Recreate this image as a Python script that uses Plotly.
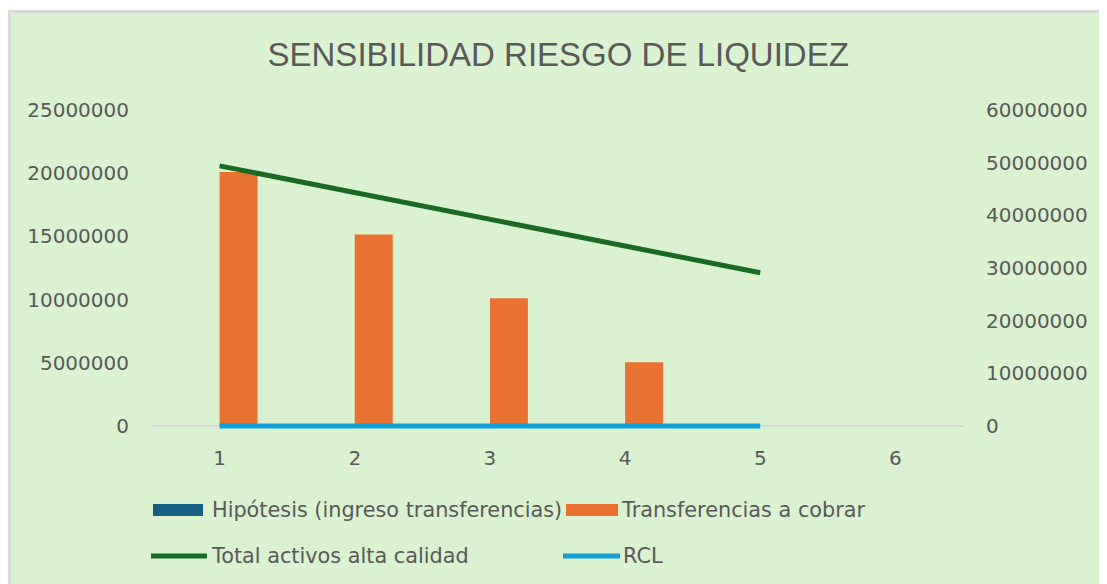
import plotly.graph_objects as go

# ---------------- data ----------------
categories = [1, 2, 3, 4, 5]
axis_categories = [1, 2, 3, 4, 5, 6]
hipotesis = [0, 0, 0, 0, 0]
transferencias = [20100000, 15150000, 10100000, 5050000, 0]
total_activos = [49400000, 44300000, 39250000, 34200000, 29100000]
rcl = [0, 0, 0, 0, 0]
left_ticks = [0, 5000000, 10000000, 15000000, 20000000, 25000000]
right_ticks = [0, 10000000, 20000000, 30000000, 40000000, 50000000, 60000000]
series_names = ["Hipótesis (ingreso transferencias)", "Transferencias a cobrar",
                "Total activos alta calidad", "RCL"]
title_text = "SENSIBILIDAD RIESGO DE LIQUIDEZ"

# ---------------- style ----------------
C_BLUE = "#156082"
C_ORANGE = "#E97132"
C_GREEN = "#196B24"
C_CYAN = "#0F9ED5"
C_BG = "#DAF2D0"
C_TEXT = "#595959"
C_BORDER = "#D9D9D9"
TICK_FONT = dict(family="DejaVu Sans", size=20, color=C_TEXT)

W, H = 1099, 576
ML, MR, MT, MB = 144, 144, 102, 154
PW, PH = W - ML - MR, H - MT - MB
PAD_PX = 4  # extra room below zero so the zero line is not clipped


def px_x(fx):
    return (fx - ML) / PW


def px_y(fy):
    return (H - MB - fy) / PH


left_max = left_ticks[-1]
right_max = right_ticks[-1]
left_min = -PAD_PX * left_max / (PH - PAD_PX)
right_min = -PAD_PX * right_max / (PH - PAD_PX)

fig = go.Figure()
fig.add_trace(go.Bar(x=categories, y=hipotesis, name=series_names[0],
                     marker=dict(color=C_BLUE, line=dict(width=0)),
                     offsetgroup="a", showlegend=False))
fig.add_trace(go.Bar(x=categories, y=transferencias, name=series_names[1],
                     marker=dict(color=C_ORANGE, line=dict(width=0)),
                     offsetgroup="b", showlegend=False))
fig.add_trace(go.Scatter(x=categories, y=total_activos, name=series_names[2],
                         mode="lines", line=dict(color=C_GREEN, width=5),
                         yaxis="y2", showlegend=False))
fig.add_trace(go.Scatter(x=categories, y=rcl, name=series_names[3],
                         mode="lines", line=dict(color=C_CYAN, width=5),
                         yaxis="y2", showlegend=False))

shapes = [
    dict(type="rect", xref="paper", yref="paper", layer="below",
         x0=px_x(1.5), x1=px_x(W + 2), y0=px_y(H + 5), y1=px_y(3.5),
         fillcolor=C_BG, line=dict(color=C_BORDER, width=3)),
]
annotations = []

# manual legend (wide symbols like the original)
row1, row2 = 502, 548
shapes.append(dict(type="rect", xref="paper", yref="paper",
                   x0=px_x(145), x1=px_x(195), y0=px_y(row1 + 6), y1=px_y(row1 - 6),
                   fillcolor=C_BLUE, line=dict(width=0)))
shapes.append(dict(type="rect", xref="paper", yref="paper",
                   x0=px_x(558), x1=px_x(610), y0=px_y(row1 + 6), y1=px_y(row1 - 6),
                   fillcolor=C_ORANGE, line=dict(width=0)))
shapes.append(dict(type="line", xref="paper", yref="paper",
                   x0=px_x(143), x1=px_x(199), y0=px_y(row2), y1=px_y(row2),
                   line=dict(color=C_GREEN, width=5)))
shapes.append(dict(type="line", xref="paper", yref="paper",
                   x0=px_x(555), x1=px_x(612), y0=px_y(row2), y1=px_y(row2),
                   line=dict(color=C_CYAN, width=5)))
legend_pos = [(202, row1), (611, row1), (201, row2), (613, row2)]
for name, (lx, ly) in zip(series_names, legend_pos):
    annotations.append(dict(text=name, xref="paper", yref="paper",
                            x=px_x(lx), y=px_y(ly), xanchor="left", yanchor="middle",
                            showarrow=False,
                            font=dict(family="DejaVu Sans", size=20.8, color=C_TEXT)))

fig.update_layout(
    width=W, height=H,
    margin=dict(l=ML, r=MR, t=MT, b=MB, pad=0),
    paper_bgcolor="white",
    plot_bgcolor="rgba(0,0,0,0)",
    barmode="group", bargap=0.438, bargroupgap=0,
    showlegend=False,
    title=dict(text=title_text, x=px_x(550), xanchor="center",
               y=1 - 46 / H, yanchor="middle", yref="container",
               font=dict(family="Liberation Sans", size=33, color=C_TEXT)),
    xaxis=dict(range=[0.5, 6.5], tickmode="array", tickvals=axis_categories,
               ticktext=[str(c) for c in axis_categories],
               showgrid=False, zeroline=False, showline=False, ticks="",
               tickfont=TICK_FONT, ticklabelstandoff=14),
    yaxis=dict(range=[left_min, left_max], tickmode="array", tickvals=left_ticks,
               tickformat="d", showgrid=False, zeroline=True,
               zerolinecolor=C_BORDER, zerolinewidth=2, showline=False, ticks="",
               tickfont=TICK_FONT, ticklabelstandoff=22),
    yaxis2=dict(range=[right_min, right_max], tickmode="array", tickvals=right_ticks,
                tickformat="d", overlaying="y", side="right", showgrid=False,
                zeroline=False, showline=False, ticks="",
                tickfont=TICK_FONT, ticklabelstandoff=22),
    shapes=shapes,
    annotations=annotations,
)

fig.write_html("out.html")
